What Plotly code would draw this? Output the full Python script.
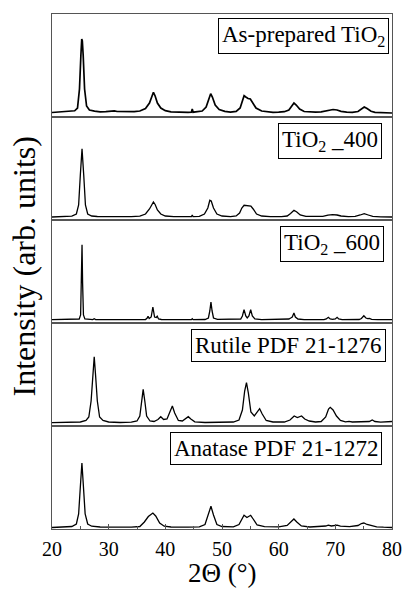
import plotly.graph_objects as go
from plotly.subplots import make_subplots

# ---------------- data (intensity in arb. units) ----------------
panel_labels = ["As-prepared TiO<sub>2</sub>", "TiO<sub>2</sub> _400", "TiO<sub>2</sub> _600",
                "Rutile PDF 21-1276", "Anatase PDF 21-1272"]

asprep_x = [20, 21, 22, 23, 24, 24.5, 24.85, 25.1, 25.25, 25.35, 25.5, 25.75, 26.1, 26.6, 27.5, 28.5,
            29.5, 30.5, 31, 31.5, 32.5, 33.5, 34.5, 35.5, 36.5, 37.2, 37.7, 37.9, 38.2, 38.6, 39.2, 40,
            41, 42, 43, 44, 44.6, 44.75, 44.9, 45.5, 46.5, 47.2, 47.7, 48.0, 48.3, 48.8, 49.5, 50.5,
            51.5, 52.5, 53.2, 53.6, 53.9, 54.2, 54.6, 55.0, 55.4, 56, 57, 58, 59, 60, 61, 61.8, 62.3,
            62.7, 63.1, 63.7, 64.5, 65.5, 66.5, 67.5, 68.3, 69, 69.6, 70.3, 71, 72, 73, 74, 74.6, 75.1,
            75.6, 76.3, 77, 78, 79, 80]
asprep_y = [4.5, 4.9, 4.7, 5.4, 6.2, 9, 28, 62, 78, 76, 62, 28, 11, 7, 5.8, 5.2,
            5.4, 5.8, 6.2, 5.5, 5.3, 4.9, 5.3, 6, 8.5, 14, 22, 24.7, 21, 14, 9, 6.3,
            5.2, 4.9, 4.4, 4.7, 4.8, 8, 4.8, 5.1, 6, 10, 19, 23.3, 20, 12, 7.5, 5.6,
            4.9, 5.6, 9, 16, 21.3, 20, 18.5, 18, 14, 9, 6, 5.1, 4.7, 4.9, 5.3, 7, 11,
            14, 12, 8, 5.5, 4.9, 4.8, 5.1, 5.8, 7, 7.5, 7, 5.6, 4.8, 4.6, 5.5, 8, 10,
            8.5, 5.8, 4.7, 4.4, 4.1, 4.0]

t400_x = [20, 22, 23.5, 24.3, 24.7, 25.0, 25.3, 25.6, 25.9, 26.3, 27, 28, 30, 32, 34, 35.5, 36.5,
          37.2, 37.7, 37.9, 38.2, 38.6, 39.2, 40, 41.5, 43, 44.6, 44.75, 44.9, 46, 46.9, 47.5,
          47.85, 48.1, 48.5, 49.1, 50, 51.5, 52.5, 53.1, 53.5, 53.9, 54.5, 55.1, 55.5, 56.1, 57,
          58.5, 60.5, 61.5, 62.1, 62.7, 63.2, 63.8, 64.8, 66.5, 67.8, 68.7, 69.5, 70.3, 71, 72.3,
          73.5, 74.4, 75.1, 75.8, 76.6, 78, 80]
t400_y = [3.0, 3.2, 3.8, 6, 15, 45, 71.3, 45, 15, 6, 4, 3.5, 3.3, 3.2, 3.3, 3.8, 6,
          11, 16.5, 18, 15.5, 10, 6, 4, 3.4, 3.2, 3.3, 5, 3.3, 3.6, 6, 12,
          19.7, 19, 12, 6, 4, 3.4, 4, 7, 12, 14.7, 14.5, 14, 11, 6, 4,
          3.4, 3.4, 4, 6.5, 9.7, 8, 5, 3.6, 3.3, 3.6, 4.8, 5.3, 5, 4, 3.4,
          3.6, 5, 6.3, 5, 3.6, 3.2, 3.0]

t600_x = [20, 24, 24.8, 25.05, 25.2, 25.3, 25.4, 25.55, 25.8, 26.5, 27.2, 27.45, 27.7, 30, 35,
          36.5, 36.8, 36.95, 37.15, 37.5, 37.8, 38.1, 38.4, 38.57, 38.8, 39.3, 42, 44.6, 44.75,
          44.9, 47, 47.6, 47.85, 48.05, 48.25, 48.5, 49.2, 52, 53.3, 53.6, 53.89, 54.2, 54.45,
          54.75, 55.06, 55.35, 55.8, 57, 61, 61.8, 62.12, 62.4, 62.69, 62.95, 63.4, 64.5, 68,
          68.4, 68.76, 69.1, 69.5, 70.0, 70.31, 70.6, 71.2, 74.2, 74.6, 75.03, 75.4, 75.7, 76.02,
          76.4, 77.5, 80]
t600_y = [3.3, 3.4, 4, 8, 40, 78.3, 40, 8, 4, 3.4, 3.4, 4.2, 3.4, 3.3, 3.3,
          3.5, 5, 6.7, 4.5, 6, 16, 6, 5.5, 6.7, 4, 3.5, 3.3, 3.3, 4.3,
          3.3, 3.5, 5, 12, 21, 12, 5, 3.6, 3.4, 4, 7, 13.3, 7, 5,
          7, 13.3, 7, 4, 3.4, 3.4, 4, 5, 6, 10, 6, 4, 3.4, 3.4,
          4, 5.7, 4, 3.6, 4, 5.7, 4, 3.4, 3.5, 4.5, 7.3, 5, 4.3, 4.6,
          3.6, 3.3, 3.3]

rutile_x = [20, 23, 25, 26, 26.5, 26.9, 27.2, 27.45, 27.7, 28.0, 28.4, 29, 30, 32, 34, 35, 35.5,
            35.8, 36.09, 36.4, 36.7, 37.3, 38, 38.7, 39.19, 39.7, 40.3, 40.8, 41.24, 41.65, 42.3,
            43, 43.6, 44.05, 44.5, 45.2, 47, 50, 52, 53, 53.6, 54.0, 54.32, 54.65, 55.1, 55.7,
            56.2, 56.64, 57.1, 57.8, 59, 61, 62, 62.74, 63.3, 64.04, 64.6, 65.4, 66.5, 67.5, 68.3,
            68.8, 69.1, 69.6, 70.2, 70.9, 71.8, 72.41, 73, 74, 74.41, 75, 76, 76.51, 77, 78, 79.4,
            79.82, 80]
rutile_y = [3.3, 3.5, 4, 5.5, 9, 25, 50, 69.3, 50, 25, 9, 5.5, 4, 3.5, 3.8, 5, 10,
            24, 36.7, 24, 10, 5, 4.5, 6.5, 9.3, 6.5, 7, 14, 20, 13, 5.5,
            5, 7.5, 9.3, 7, 4.2, 3.5, 3.5, 4, 6, 16, 35, 43.3, 33, 14, 10,
            14, 17.3, 12, 5.5, 4, 4, 6, 10, 8.5, 10, 7, 5, 4, 4.5, 9,
            17, 18.7, 16, 10, 5.5, 4.2, 4.6, 4, 4, 4.3, 4, 4.5, 6, 4.5, 3.8, 4,
            4.7, 4.5]

anatase_x = [20, 22, 23.5, 24.3, 24.7, 25.0, 25.28, 25.55, 25.85, 26.3, 27, 28.5, 31, 34, 35.5,
             36.3, 37, 37.8, 38.3, 39, 39.8, 41, 44, 46, 47, 47.6, 48.05, 48.5, 49.1, 50, 52, 53,
             53.5, 53.89, 54.4, 55.06, 55.5, 56.2, 57.5, 60, 61.5, 62.2, 62.69, 63.2, 64, 65.5,
             67.5, 68.3, 68.76, 69.3, 70.31, 70.9, 72.5, 74, 74.6, 75.03, 75.6, 76.3, 77.3, 78.5, 80]
anatase_y = [1.5, 1.8, 2.5, 5, 15, 42, 66, 42, 15, 5, 2.8, 2, 1.7, 1.8, 2.5,
             7, 12.5, 16, 13, 6, 2.8, 2, 1.8, 2.2, 4.5, 14, 22.7, 14, 4.5, 2.5, 2.2, 4.5,
             10.5, 13.7, 11.5, 13.7, 10, 4, 2.3, 2.2, 3.5, 7.5, 10, 7, 3, 2,
             2.3, 3, 3.8, 3, 3.8, 2.8, 2.3, 3.5, 5.5, 6, 4.5, 3.5, 2.2, 1.8, 1.5]

series_x = [asprep_x, t400_x, t600_x, rutile_x, anatase_x]
series_y = [asprep_y, t400_y, t600_y, rutile_y, anatase_y]

x_ticks = [20, 30, 40, 50, 60, 70, 80]

# ---------------- figure ----------------
FONT = "Liberation Serif"
frame = "#555555"
label_x = [0.99, 0.972, 0.975, 0.982, 0.972]
label_y = [0.965, 0.94, 0.945, 0.945, 0.945]

fig = make_subplots(rows=5, cols=1, shared_xaxes=True, vertical_spacing=0)

for i, (xs, ys) in enumerate(zip(series_x, series_y)):
    fig.add_trace(go.Scatter(x=xs, y=ys, mode="lines",
                             line=dict(color="black", width=1.7 if i == 0 else 1.3),
                             showlegend=False, hoverinfo="skip"),
                  row=i + 1, col=1)
    fig.update_yaxes(range=[0, 103], showticklabels=False, ticks="", showgrid=False,
                     zeroline=False, showline=True, mirror=True, linecolor=frame, linewidth=1,
                     automargin=False, row=i + 1, col=1)
    fig.update_xaxes(range=[20, 80], showgrid=False, zeroline=False, showline=True, mirror=True,
                     linecolor=frame, linewidth=1, automargin=False, row=i + 1, col=1)
    yref = "y domain" if i == 0 else f"y{i + 1} domain"
    xref = "x domain" if i == 0 else f"x{i + 1} domain"
    fig.add_annotation(text=panel_labels[i], xref=xref, yref=yref, x=label_x[i], y=label_y[i],
                       xanchor="right", yanchor="top", showarrow=False,
                       font=dict(family=FONT, size=23, color="black"),
                       bordercolor="black", borderwidth=1, borderpad=3, bgcolor="white")

fig.update_xaxes(ticks="inside", ticklen=5, tickwidth=1, tickcolor=frame,
                 tickvals=x_ticks, ticktext=[str(v) for v in x_ticks],
                 tickfont=dict(family=FONT, size=20, color="black"),
                 ticklabelstandoff=2,
                 minor=dict(dtick=5, tick0=0, ticks="inside", ticklen=3, tickcolor=frame),
                 row=5, col=1)

fig.add_annotation(text="2Θ (°)", xref="paper", yref="paper", x=0.5, y=-0.1185,
                   xanchor="center", yanchor="bottom", showarrow=False,
                   font=dict(family=FONT, size=27, color="black"))

fig.add_annotation(text="Intensity (arb. units)", xref="paper", yref="paper",
                   x=-0.082, y=0.51, textangle=-90, showarrow=False,
                   xanchor="center", yanchor="middle",
                   font=dict(family=FONT, size=32, color="black"))

fig.update_layout(width=404, height=591, margin=dict(l=52, r=12, t=14, b=62),
                  plot_bgcolor="white", paper_bgcolor="white")

fig.write_html("out.html")
